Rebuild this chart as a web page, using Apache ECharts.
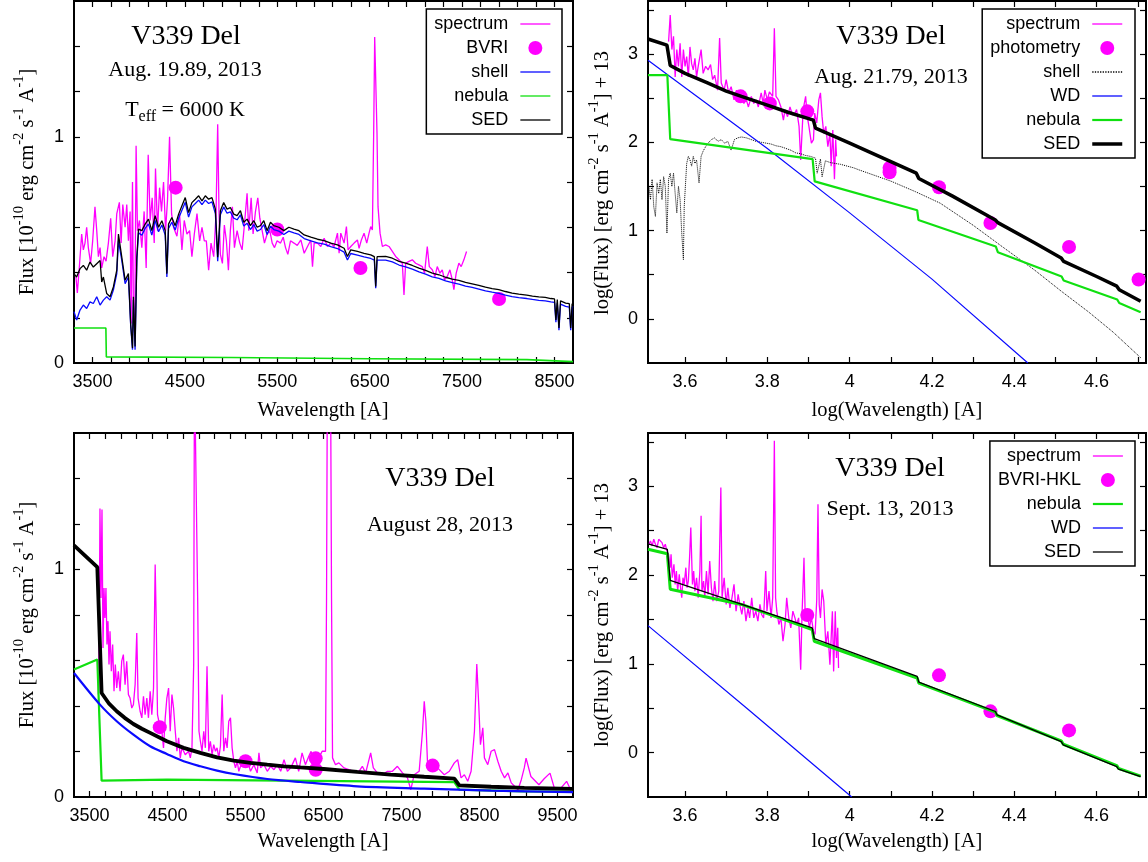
<!DOCTYPE html>
<html>
<head>
<meta charset="utf-8">
<script src="https://cdn.jsdelivr.net/npm/echarts@6/dist/echarts.min.js"></script>
<style>
  html, body { margin: 0; padding: 0; background: #fff; }
  #chart { width: 1148px; height: 862px; }
</style>
</head>
<body>
<div id="chart"></div>
<script>
// ---------------- Aug. 19.89, 2013 (flux vs wavelength) ----------------
const p1Spectrum = [[3321,0.38],[3336,0.31],[3357,0.42],[3383,0.57],[3401,0.50],[3419,0.53],[3437,0.60],[3455,0.51],[3480,0.44],[3502,0.54],[3527,0.69],[3546,0.585],[3564,0.47],[3582,0.51],[3600,0.42],[3625,0.47],[3647,0.45],[3672,0.53],[3697,0.64],[3719,0.47],[3745,0.54],[3763,0.66],[3791,0.71],[3810,0.53],[3828,0.70],[3853,0.60],[3871,0.70],[3889,0.54],[3907,0.67],[3918,0.175],[3933,0.80],[3943,0.22],[3958,0.17],[3972,0.96],[3987,0.585],[4008,0.63],[4034,0.51],[4059,0.67],[4081,0.42],[4103,0.92],[4124,0.63],[4146,0.73],[4168,0.53],[4182,0.86],[4204,0.585],[4226,0.775],[4247,0.67],[4269,0.80],[4291,0.585],[4312,0.72],[4334,1.0],[4356,0.66],[4377,0.60],[4414,0.56],[4442,0.66],[4468,0.50],[4493,0.63],[4522,0.57],[4551,0.585],[4576,0.47],[4602,0.57],[4631,0.66],[4660,0.54],[4685,0.60],[4710,0.54],[4732,0.54],[4757,0.41],[4783,0.53],[4812,0.47],[4837,0.66],[4855,1.055],[4869,0.67],[4884,0.48],[4906,0.44],[4927,0.61],[4949,0.54],[4971,0.41],[4992,0.585],[5014,0.69],[5036,0.51],[5065,0.585],[5094,0.53],[5119,0.50],[5144,0.61],[5173,0.75],[5191,0.585],[5217,0.73],[5238,0.57],[5264,0.67],[5289,0.73],[5311,0.64],[5336,0.585],[5361,0.53],[5390,0.57],[5419,0.585],[5445,0.53],[5470,0.51],[5498,0.54],[5535,0.53],[5564,0.556],[5589,0.51],[5614,0.48],[5643,0.54],[5680,0.53],[5716,0.52],[5755,0.544],[5791,0.485],[5827,0.515],[5863,0.544],[5881,0.426],[5899,0.53],[5935,0.53],[5971,0.515],[6007,0.551],[6043,0.515],[6079,0.53],[6115,0.515],[6151,0.574],[6169,0.485],[6187,0.574],[6223,0.53],[6248,0.603],[6266,0.50],[6295,0.515],[6331,0.53],[6367,0.544],[6385,0.507],[6410,0.544],[6439,0.574],[6468,0.53],[6493,0.574],[6511,0.603],[6529,0.588],[6543,1.015],[6554,1.441],[6568,1.441],[6579,1.015],[6590,0.691],[6612,0.574],[6637,0.515],[6673,0.522],[6709,0.515],[6745,0.493],[6781,0.471],[6817,0.456],[6853,0.441],[6871,0.301],[6889,0.441],[6925,0.449],[6961,0.456],[6997,0.441],[7033,0.434],[7069,0.426],[7094,0.397],[7123,0.515],[7145,0.426],[7177,0.412],[7206,0.382],[7231,0.426],[7260,0.397],[7285,0.412],[7310,0.368],[7339,0.382],[7368,0.412],[7393,0.368],[7411,0.324],[7436,0.397],[7465,0.441],[7490,0.426],[7519,0.456],[7548,0.493]];
const p1Bvri = [[4400,0.775],[5500,0.59],[6400,0.42],[7900,0.283]];
const p1Shell = [[3300,0.227],[3329,0.19],[3365,0.234],[3401,0.256],[3437,0.241],[3473,0.27],[3509,0.263],[3546,0.293],[3582,0.256],[3618,0.278],[3654,0.293],[3690,0.278],[3726,0.322],[3763,0.395],[3781,0.541],[3817,0.453],[3853,0.351],[3889,0.38],[3914,0.161],[3933,0.059],[3943,0.278],[3961,0.059],[3980,0.453],[3998,0.575],[4034,0.565],[4070,0.595],[4106,0.615],[4142,0.565],[4178,0.63],[4215,0.58],[4251,0.61],[4287,0.565],[4305,0.38],[4323,0.595],[4359,0.622],[4395,0.588],[4432,0.64],[4468,0.675],[4504,0.71],[4540,0.645],[4576,0.69],[4613,0.705],[4649,0.72],[4685,0.70],[4721,0.72],[4757,0.705],[4793,0.712],[4830,0.66],[4855,0.45],[4884,0.655],[4920,0.69],[4956,0.662],[4992,0.668],[5029,0.64],[5065,0.633],[5101,0.655],[5137,0.605],[5173,0.618],[5209,0.59],[5246,0.612],[5282,0.583],[5318,0.59],[5354,0.612],[5390,0.568],[5426,0.605],[5462,0.59],[5517,0.583],[5571,0.568],[5625,0.583],[5680,0.575],[5734,0.568],[5791,0.55],[5863,0.54],[5935,0.531],[6007,0.525],[6079,0.514],[6151,0.506],[6223,0.49],[6259,0.455],[6295,0.484],[6367,0.477],[6439,0.469],[6511,0.462],[6550,0.455],[6565,0.33],[6580,0.455],[6601,0.462],[6673,0.455],[6745,0.447],[6817,0.433],[6889,0.425],[6961,0.415],[7033,0.403],[7105,0.393],[7177,0.381],[7249,0.374],[7321,0.363],[7393,0.355],[7465,0.349],[7537,0.34],[7609,0.334],[7681,0.327],[7753,0.319],[7825,0.313],[7897,0.308],[7969,0.30],[8041,0.293],[8113,0.289],[8200,0.285],[8261,0.281],[8330,0.277],[8400,0.275],[8460,0.27],[8500,0.268],[8515,0.18],[8530,0.265],[8548,0.145],[8565,0.26],[8620,0.25],[8660,0.247],[8675,0.145],[8690,0.245],[8700,0.25]];
const p1Nebula = [[3300,0.155],[3645,0.155],[3650,0.027],[5000,0.024],[6500,0.019],[8200,0.015],[8215,0.007],[8700,0.006]];
const p1Sed = [[3300,0.395],[3328,0.38],[3365,0.417],[3401,0.431],[3437,0.41],[3473,0.446],[3509,0.424],[3546,0.439],[3582,0.453],[3600,0.358],[3618,0.38],[3654,0.307],[3690,0.293],[3726,0.336],[3763,0.41],[3781,0.57],[3817,0.468],[3853,0.366],[3889,0.395],[3914,0.168],[3933,0.066],[3943,0.293],[3961,0.073],[3980,0.468],[3998,0.592],[4034,0.585],[4070,0.614],[4106,0.636],[4142,0.585],[4178,0.651],[4215,0.60],[4251,0.629],[4287,0.585],[4305,0.395],[4323,0.614],[4359,0.643],[4395,0.607],[4432,0.658],[4468,0.695],[4504,0.731],[4540,0.665],[4576,0.709],[4613,0.724],[4649,0.739],[4685,0.717],[4721,0.739],[4757,0.724],[4793,0.731],[4830,0.68],[4855,0.468],[4884,0.673],[4920,0.709],[4956,0.68],[4992,0.687],[5029,0.658],[5065,0.651],[5101,0.673],[5137,0.622],[5173,0.636],[5209,0.607],[5246,0.629],[5282,0.60],[5318,0.607],[5354,0.629],[5390,0.585],[5426,0.622],[5462,0.607],[5517,0.60],[5571,0.585],[5625,0.60],[5680,0.592],[5734,0.585],[5791,0.566],[5863,0.556],[5935,0.547],[6007,0.541],[6079,0.53],[6151,0.522],[6223,0.507],[6259,0.471],[6295,0.50],[6367,0.493],[6439,0.485],[6511,0.478],[6550,0.47],[6565,0.338],[6580,0.47],[6601,0.478],[6673,0.471],[6745,0.463],[6817,0.449],[6889,0.441],[6961,0.431],[7033,0.419],[7105,0.409],[7177,0.397],[7249,0.39],[7321,0.379],[7393,0.371],[7465,0.365],[7537,0.356],[7609,0.35],[7681,0.343],[7753,0.335],[7825,0.329],[7897,0.324],[7969,0.316],[8041,0.309],[8113,0.304],[8200,0.30],[8261,0.296],[8330,0.292],[8400,0.29],[8460,0.285],[8500,0.283],[8515,0.19],[8530,0.28],[8548,0.155],[8565,0.275],[8620,0.265],[8660,0.262],[8675,0.155],[8690,0.26],[8700,0.265]];

// ---------------- Aug. 21.79, 2013 (log-log) ----------------
const p2Spectrum = [[3.56,3.14],[3.564,3.44],[3.568,3.05],[3.572,3.2],[3.576,2.74],[3.58,3.05],[3.584,2.86],[3.588,3.12],[3.592,2.74],[3.596,3.05],[3.6,2.86],[3.604,2.97],[3.608,2.74],[3.612,3.08],[3.616,2.89],[3.62,2.82],[3.624,2.95],[3.628,2.74],[3.632,2.86],[3.639,3.05],[3.644,2.78],[3.65,2.86],[3.656,2.82],[3.662,2.88],[3.667,2.71],[3.672,2.76],[3.679,2.59],[3.684,3.18],[3.688,2.67],[3.695,2.59],[3.7,2.71],[3.706,2.56],[3.712,2.63],[3.719,2.48],[3.725,2.59],[3.73,2.48],[3.737,2.52],[3.743,2.44],[3.749,2.48],[3.754,2.40],[3.761,2.52],[3.767,2.44],[3.773,2.48],[3.778,2.40],[3.785,2.56],[3.79,2.44],[3.794,2.59],[3.8,2.48],[3.805,2.57],[3.813,2.52],[3.817,3.29],[3.821,2.52],[3.827,2.48],[3.833,2.40],[3.839,2.25],[3.843,2.37],[3.849,2.29],[3.855,2.40],[3.861,2.31],[3.867,2.33],[3.871,2.37],[3.877,2.18],[3.881,1.80],[3.887,2.37],[3.893,2.52],[3.897,2.29],[3.901,2.18],[3.907,1.99],[3.912,2.03],[3.915,2.33],[3.92,2.22],[3.925,2.48],[3.929,2.56],[3.933,2.29],[3.937,2.10],[3.942,2.18],[3.947,1.95],[3.952,2.10],[3.955,1.73],[3.959,2.14],[3.963,1.58],[3.966,2.03],[3.968,1.84]];
const p2Photometry = [[3.735,2.52],[3.806,2.44],[3.897,2.35],[4.097,1.71],[4.097,1.66],[4.217,1.49],[4.342,1.085],[4.533,0.815],[4.702,0.445]];
const p2Shell = [[3.512,1.5],[3.516,1.35],[3.52,1.58],[3.524,1.27],[3.528,1.16],[3.532,1.54],[3.536,1.42],[3.54,1.58],[3.544,1.35],[3.548,1.61],[3.552,1.5],[3.556,0.97],[3.56,1.58],[3.564,1.65],[3.568,1.5],[3.572,1.65],[3.576,1.42],[3.58,1.2],[3.584,1.5],[3.588,1.35],[3.592,0.97],[3.596,0.67],[3.598,1.27],[3.604,1.76],[3.608,1.84],[3.612,1.8],[3.616,1.73],[3.62,1.84],[3.624,1.76],[3.628,1.8],[3.634,1.54],[3.639,1.84],[3.644,1.9],[3.65,1.95],[3.656,1.99],[3.664,2.03],[3.672,2.05],[3.68,2.01],[3.688,2.03],[3.696,1.99],[3.704,2.01],[3.712,1.91],[3.72,2.03],[3.728,2.05],[3.737,2.06],[3.749,2.05],[3.761,2.03],[3.773,2.01],[3.785,2.0],[3.797,1.99],[3.809,1.98],[3.821,1.96],[3.833,1.95],[3.845,1.93],[3.857,1.91],[3.869,1.88],[3.881,1.87],[3.893,1.85],[3.905,1.84],[3.917,1.82],[3.921,1.65],[3.929,1.81],[3.933,1.61],[3.941,1.79],[3.953,1.77],[3.965,1.76],[3.978,1.75],[3.994,1.73],[4.01,1.71],[4.021,1.69],[4.1,1.56],[4.16,1.44],[4.22,1.31],[4.3,1.06],[4.37,0.82],[4.45,0.55],[4.515,0.31],[4.58,0.08],[4.64,-0.15],[4.707,-0.44]];
const p2Wd = [[3.51,2.93],[3.8,1.93],[4.0,1.2],[4.2,0.45],[4.433,-0.5]];
const p2Nebula = [[3.51,2.76],[3.557,2.76],[3.564,2.035],[3.91,1.81],[3.915,1.557],[4.164,1.23],[4.167,1.12],[4.355,0.82],[4.36,0.755],[4.515,0.48],[4.52,0.435],[4.65,0.22],[4.655,0.18],[4.707,0.075]];
const p2Sed = [[3.51,3.17],[3.556,3.10],[3.564,2.87],[3.60,2.78],[3.656,2.67],[3.70,2.58],[3.737,2.52],[3.80,2.42],[3.85,2.34],[3.912,2.25],[3.917,2.16],[4.0,1.99],[4.10,1.78],[4.162,1.65],[4.168,1.59],[4.25,1.39],[4.354,1.12],[4.36,1.09],[4.45,0.86],[4.514,0.69],[4.52,0.65],[4.60,0.48],[4.649,0.37],[4.655,0.33],[4.707,0.20]];

// ---------------- August 28, 2013 (flux vs wavelength) ----------------
const p3Spectrum = [[3612,0.45],[3624,0.73],[3633,1.268],[3646,0.875],[3659,1.264],[3672,0.655],[3685,0.919],[3697,0.787],[3710,0.919],[3723,0.67],[3736,0.773],[3749,0.582],[3762,0.729],[3779,0.553],[3796,0.67],[3813,0.465],[3830,0.582],[3848,0.479],[3869,0.553],[3891,0.465],[3912,0.597],[3933,0.626],[3955,0.494],[3976,0.597],[3998,0.45],[4019,0.435],[4041,0.391],[4062,0.406],[4084,0.494],[4105,0.721],[4122,0.435],[4148,0.377],[4170,0.348],[4191,0.443],[4212,0.362],[4234,0.435],[4255,0.348],[4277,0.465],[4298,0.362],[4320,0.479],[4341,1.022],[4354,0.787],[4371,0.362],[4397,0.318],[4427,0.289],[4448,0.216],[4470,0.348],[4491,0.435],[4513,0.479],[4534,0.289],[4556,0.45],[4577,0.391],[4599,0.289],[4620,0.201],[4642,0.26],[4663,0.172],[4684,0.216],[4706,0.201],[4727,0.186],[4749,0.179],[4770,0.201],[4792,0.172],[4813,0.216],[4835,0.582],[4845,1.9],[4868,1.9],[4886,0.875],[4903,0.289],[4921,0.245],[4942,0.201],[4964,0.289],[4985,0.216],[5006,0.575],[5028,0.201],[5049,0.245],[5071,0.186],[5092,0.23],[5114,0.201],[5135,0.216],[5157,0.172],[5178,0.223],[5200,0.45],[5221,0.201],[5243,0.26],[5264,0.216],[5285,0.333],[5307,0.348],[5328,0.216],[5350,0.157],[5371,0.128],[5393,0.157],[5414,0.113],[5436,0.135],[5457,0.157],[5479,0.142],[5521,0.164],[5564,0.113],[5607,0.142],[5650,0.106],[5672,0.194],[5693,0.128],[5736,0.142],[5779,0.113],[5822,0.135],[5865,0.12],[5908,0.142],[5951,0.113],[5994,0.164],[6037,0.113],[6080,0.128],[6139,0.172],[6182,0.113],[6225,0.194],[6268,0.142],[6311,0.179],[6341,0.201],[6375,0.142],[6440,0.172],[6483,0.201],[6526,0.201],[6539,0.875],[6550,1.9],[6590,1.9],[6603,0.875],[6616,0.172],[6654,0.142],[6697,0.15],[6762,0.128],[6826,0.12],[6890,0.113],[6955,0.113],[6998,0.135],[7041,0.106],[7105,0.194],[7139,0.128],[7191,0.106],[7255,0.098],[7320,0.113],[7384,0.113],[7448,0.135],[7513,0.106],[7577,0.084],[7620,0.032],[7663,0.098],[7727,0.113],[7770,0.289],[7792,0.421],[7813,0.333],[7835,0.142],[7878,0.113],[7963,0.128],[8049,0.098],[8114,0.113],[8178,0.15],[8221,0.164],[8264,0.084],[8307,0.098],[8350,0.069],[8393,0.113],[8436,0.289],[8466,0.585],[8491,0.406],[8513,0.23],[8543,0.304],[8564,0.172],[8607,0.142],[8650,0.201],[8693,0.208],[8736,0.157],[8779,0.113],[8822,0.084],[8865,0.106],[8908,0.062],[8951,0.047],[8994,0.032],[9037,0.076],[9075,0.128],[9098,0.171],[9160,0.09],[9263,0.054],[9330,0.08],[9405,0.105],[9460,0.04],[9547,0.04],[9618,0.069],[9689,0.018]];
const p3Nebula = [[3300,0.56],[3599,0.604],[3654,0.072],[4491,0.076],[6000,0.072],[8178,0.065],[8242,0.032],[9075,0.025],[9700,0.024]];
const p3Wd = [[3300,0.545],[3633,0.406],[3848,0.333],[4062,0.274],[4277,0.223],[4491,0.189],[4706,0.157],[4921,0.135],[5135,0.116],[5350,0.101],[5779,0.079],[6204,0.066],[6933,0.047],[7792,0.037],[8650,0.028],[9700,0.021]];
const p3Sed = [[3300,1.106],[3599,1.01],[3654,0.457],[3750,0.41],[3848,0.377],[3950,0.348],[4062,0.321],[4170,0.30],[4277,0.282],[4491,0.245],[4706,0.216],[4921,0.194],[5135,0.174],[5350,0.16],[5564,0.15],[5779,0.142],[5994,0.135],[6204,0.13],[6504,0.123],[6933,0.11],[7363,0.098],[7792,0.089],[8178,0.081],[8242,0.051],[8650,0.045],[9075,0.04],[9700,0.036]];
const p3Bvri = [[4400,0.307],[5500,0.157],[6400,0.17],[6400,0.12],[7900,0.138]];

// ---------------- Sept. 13, 2013 (log-log) ----------------
const p4Spectrum = [[3.512,2.347],[3.516,2.384],[3.52,2.328],[3.524,2.403],[3.528,2.347],[3.532,2.309],[3.536,2.403],[3.54,2.422],[3.544,2.365],[3.548,2.309],[3.552,2.347],[3.556,2.271],[3.56,2.234],[3.564,2.083],[3.566,2.234],[3.569,1.97],[3.573,2.12],[3.576,1.895],[3.579,2.045],[3.582,1.819],[3.586,2.008],[3.589,1.857],[3.592,1.744],[3.595,1.97],[3.598,1.895],[3.602,2.083],[3.605,1.857],[3.608,1.932],[3.611,2.196],[3.614,2.535],[3.618,1.895],[3.621,2.045],[3.624,1.819],[3.628,1.97],[3.632,1.744],[3.636,2.045],[3.639,2.667],[3.641,1.819],[3.645,1.932],[3.648,1.744],[3.652,2.045],[3.656,1.782],[3.66,2.158],[3.664,1.857],[3.668,1.706],[3.672,1.932],[3.677,1.706],[3.682,1.819],[3.687,2.987],[3.69,1.744],[3.695,1.97],[3.7,1.669],[3.704,1.857],[3.709,1.631],[3.714,1.744],[3.719,1.895],[3.724,1.593],[3.729,1.782],[3.733,1.669],[3.738,1.556],[3.743,1.706],[3.748,1.48],[3.753,1.631],[3.757,1.518],[3.762,1.744],[3.767,1.518],[3.772,1.593],[3.777,1.48],[3.782,1.669],[3.786,1.556],[3.791,1.518],[3.796,2.045],[3.799,1.593],[3.804,1.819],[3.809,1.518],[3.813,1.744],[3.817,3.514],[3.82,1.744],[3.823,1.593],[3.828,1.443],[3.833,1.518],[3.838,1.254],[3.843,1.443],[3.847,1.744],[3.852,1.518],[3.857,1.405],[3.862,1.593],[3.867,1.518],[3.871,1.443],[3.876,1.518],[3.881,0.934],[3.884,1.518],[3.889,2.196],[3.892,1.518],[3.897,1.593],[3.902,1.405],[3.907,1.518],[3.912,1.367],[3.916,1.33],[3.92,1.725],[3.923,2.798],[3.926,1.669],[3.929,1.518],[3.933,1.838],[3.937,1.706],[3.942,1.217],[3.947,1.367],[3.952,0.991],[3.955,1.292],[3.958,1.593],[3.961,0.915],[3.965,1.593],[3.968,1.066],[3.971,1.405],[3.973,0.953]];
const p4Photometry = [[3.897,1.55],[4.217,0.87],[4.342,0.465],[4.533,0.25]];
const p4Nebula = [[3.51,2.29],[3.557,2.24],[3.564,1.84],[3.737,1.669],[3.909,1.386],[3.914,1.254],[4.164,0.84],[4.168,0.783],[4.354,0.456],[4.358,0.418],[4.514,0.132],[4.519,0.094],[4.649,-0.147],[4.653,-0.177],[4.707,-0.264]];
const p4Wd = [[3.51,1.43],[3.75,0.5],[4.005,-0.5]];
const p4Sed = [[3.51,2.35],[3.557,2.29],[3.564,1.94],[3.909,1.405],[3.914,1.284],[4.164,0.859],[4.168,0.795],[4.354,0.463],[4.358,0.426],[4.514,0.124],[4.519,0.087],[4.649,-0.158],[4.653,-0.185],[4.707,-0.27]];

// ---------------- axis tick labels ----------------
const linXLabels1 = [3500, 4500, 5500, 6500, 7500, 8500];
const linXLabels3 = [3500, 4500, 5500, 6500, 7500, 8500, 9500];
const linYLabels = [0, 1];
const logXLabels = [3.6, 3.8, 4, 4.2, 4.4, 4.6];
const logYLabels = [0, 1, 2, 3];

// ---------------- styling ----------------
const SANS = 'Liberation Sans';
const SERIF = 'Liberation Serif';
const MAGENTA = '#ff00ff';
const GREEN = '#10e010';
const BLUE = '#0a0aff';
const BLACK = '#000000';

function range(a, b, s) {
  const r = [];
  for (let i = 0; a + i * s <= b + 1e-9; i++) r.push(+(a + i * s).toFixed(6));
  return r;
}

const grids = [
  { left: 74,  top: 1,   width: 499, height: 362 },
  { left: 648, top: 1,   width: 498, height: 362 },
  { left: 74,  top: 433, width: 499, height: 364 },
  { left: 648, top: 433, width: 498, height: 364 }
].map(g => Object.assign(g, { show: true, borderColor: '#000', borderWidth: 2, backgroundColor: 'transparent' }));

const axisScales = [
  { x: [3300, 8700], y: [0, 1.6], xt: range(3500, 8500, 200), xl: linXLabels1, yt: range(0.2, 1.4, 0.2), yl: linYLabels },
  { x: [3.51, 4.72], y: [-0.5, 3.6], xt: range(3.6, 4.7, 0.1), xl: logXLabels, yt: range(0, 3.5, 0.5), yl: logYLabels },
  { x: [3300, 9700], y: [0, 1.6], xt: range(3500, 9500, 200), xl: linXLabels3, yt: range(0.2, 1.4, 0.2), yl: linYLabels },
  { x: [3.51, 4.72], y: [-0.5, 3.6], xt: range(3.6, 4.7, 0.1), xl: logXLabels, yt: range(0, 3.5, 0.5), yl: logYLabels }
];

const tickLine = { color: '#000', width: 1.2 };
function axis(gi, pos, min, max, ticks, labels) {
  const withLabels = pos === 'bottom' || pos === 'left';
  return {
    type: 'value', gridIndex: gi, position: pos, min: min, max: max,
    axisLine: { show: false, onZero: false },
    splitLine: { show: false },
    axisTick: { show: true, inside: true, length: 6, customValues: ticks, lineStyle: tickLine },
    axisLabel: withLabels
      ? { show: true, customValues: labels, formatter: v => String(v), color: '#000', fontFamily: SANS, fontSize: 18, margin: 10 }
      : { show: false }
  };
}

const xAxis = [], yAxis = [];
axisScales.forEach((s, gi) => {
  xAxis.push(axis(gi, 'bottom', s.x[0], s.x[1], s.xt, s.xl));
  xAxis.push(axis(gi, 'top', s.x[0], s.x[1], s.xt, s.xl));
  yAxis.push(axis(gi, 'left', s.y[0], s.y[1], s.yt, s.yl));
  yAxis.push(axis(gi, 'right', s.y[0], s.y[1], s.yt, s.yl));
});

function line(name, gi, data, color, width, type) {
  return {
    type: 'line', name: name, xAxisIndex: 2 * gi, yAxisIndex: 2 * gi, data: data,
    symbol: 'none', showSymbol: false, silent: true, animation: false, clip: true,
    lineStyle: { color: color, width: width, type: type || 'solid' },
    itemStyle: { color: color }
  };
}
function dots(name, gi, data) {
  return {
    type: 'scatter', name: name, xAxisIndex: 2 * gi, yAxisIndex: 2 * gi, data: data,
    symbol: 'circle', symbolSize: 14, silent: true, animation: false,
    itemStyle: { color: MAGENTA, opacity: 1 }
  };
}

const series = [
  // Aug. 19.89
  line('spectrum#1', 0, p1Spectrum, MAGENTA, 1.3),
  dots('BVRI#1', 0, p1Bvri),
  line('shell#1', 0, p1Shell, BLUE, 1.3),
  line('nebula#1', 0, p1Nebula, GREEN, 1.6),
  line('SED#1', 0, p1Sed, BLACK, 1.3),
  // Aug. 21.79
  line('spectrum#2', 1, p2Spectrum, MAGENTA, 1.3),
  dots('photometry#2', 1, p2Photometry),
  line('shell#2', 1, p2Shell, BLACK, 1, 'dotted'),
  line('WD#2', 1, p2Wd, BLUE, 1.2),
  line('nebula#2', 1, p2Nebula, GREEN, 2.2),
  line('SED#2', 1, p2Sed, BLACK, 3.5),
  // August 28
  line('spectrum#3', 2, p3Spectrum, MAGENTA, 1.3),
  line('nebula#3', 2, p3Nebula, GREEN, 2.2),
  Object.assign(line('WD#3', 2, p3Wd, BLUE, 2.2), { smooth: 0.3 }),
  line('SED#3', 2, p3Sed, BLACK, 3.8),
  dots('BVRI#3', 2, p3Bvri),
  // Sept. 13
  line('spectrum#4', 3, p4Spectrum, MAGENTA, 1.3),
  dots('BVRI-HKL#4', 3, p4Photometry),
  line('nebula#4', 3, p4Nebula, GREEN, 3),
  line('WD#4', 3, p4Wd, BLUE, 1.2),
  line('SED#4', 3, p4Sed, BLACK, 1.3)
];

// legend entry for a line series: only the line sample, no marker on it
function lineEntry(name, width) {
  const e = { name: name, itemStyle: { opacity: 0, color: 'rgba(0,0,0,0)', borderWidth: 0 } };
  if (width) e.lineStyle = { width: width };
  return e;
}
function legendBox(items, right, top) {
  return {
    orient: 'vertical', align: 'right', right: right, top: top,
    itemWidth: 30, itemHeight: 14, itemGap: 6,
    padding: [6, 11, 5, 8],
    borderColor: '#000', borderWidth: 1.5, backgroundColor: '#fff',
    selectedMode: false,
    formatter: n => n.split('#')[0],
    textStyle: { fontFamily: SANS, fontSize: 18, color: '#000', padding: [0, 7, 0, 0] },
    lineStyle: { width: 1.3 },
    data: items
  };
}

const legend = [
  legendBox([lineEntry('spectrum#1'), { name: 'BVRI#1' }, lineEntry('shell#1'), lineEntry('nebula#1'), lineEntry('SED#1')], 586, 9),
  legendBox([lineEntry('spectrum#2'), { name: 'photometry#2' }, lineEntry('shell#2'), lineEntry('WD#2'),
             lineEntry('nebula#2', 2.2), lineEntry('SED#2', 3.5)], 13, 9),
  legendBox([lineEntry('spectrum#4'), { name: 'BVRI-HKL#4' }, lineEntry('nebula#4', 2.2), lineEntry('WD#4'), lineEntry('SED#4')], 13, 441)
];

function label(x, y, text, size) {
  return {
    type: 'text', x: x, y: y, silent: true,
    style: {
      text: text, fontFamily: SERIF, fontSize: size, fill: '#000',
      align: 'center', verticalAlign: 'middle', textAlign: 'center', textVerticalAlign: 'middle'
    }
  };
}
const supRich = {
  n: { fontFamily: SERIF, fontSize: 20.5, lineHeight: 32, verticalAlign: 'middle', fill: '#000' },
  s: { fontFamily: SERIF, fontSize: 14.5, lineHeight: 32, verticalAlign: 'top', fill: '#000' },
  b: { fontFamily: SERIF, fontSize: 16, lineHeight: 30, verticalAlign: 'bottom', fill: '#000' },
  t: { fontFamily: SERIF, fontSize: 22, lineHeight: 30, verticalAlign: 'middle', fill: '#000' }
};
function richLabel(x, y, text, rotate) {
  return {
    type: 'text', x: x, y: y, rotation: rotate ? Math.PI / 2 : 0, silent: true,
    style: {
      text: text, rich: supRich, fill: '#000',
      align: 'center', verticalAlign: 'middle', textAlign: 'center', textVerticalAlign: 'middle'
    }
  };
}

const fluxTitle = '{n|Flux [10}{s|-10}{n| erg cm}{s|-2}{n| s}{s|-1}{n| A}{s|-1}{n|]}';
const logFluxTitle = '{n|log(Flux) [erg cm}{s|-2}{n| s}{s|-1}{n| A}{s|-1}{n|] + 13}';

const graphic = [
  label(186, 37, 'V339 Del', 28),
  label(185, 70, 'Aug. 19.89, 2013', 22),
  richLabel(185, 110, '{t|T}{b|eff}{t| = 6000 K}', false),
  label(891, 37, 'V339 Del', 28),
  label(891, 77, 'Aug. 21.79, 2013', 22),
  label(440, 479, 'V339 Del', 28),
  label(440, 525, 'August 28, 2013', 22),
  label(890, 469, 'V339 Del', 28),
  label(890, 509, 'Sept. 13, 2013', 22),
  label(323, 411, 'Wavelength [A]', 20.5),
  label(897, 411, 'log(Wavelength) [A]', 20.5),
  label(323, 842, 'Wavelength [A]', 20.5),
  label(897, 842, 'log(Wavelength) [A]', 20.5),
  richLabel(28, 182, fluxTitle, true),
  richLabel(28, 615, fluxTitle, true),
  richLabel(603, 183, logFluxTitle, true),
  richLabel(603, 615, logFluxTitle, true)
];

const chart = echarts.init(document.getElementById('chart'), null, { renderer: 'canvas' });
chart.setOption({
  animation: false,
  backgroundColor: '#ffffff',
  textStyle: { fontFamily: SANS },
  grid: grids,
  xAxis: xAxis,
  yAxis: yAxis,
  legend: legend,
  series: series,
  graphic: graphic
});
</script>
</body>
</html>
